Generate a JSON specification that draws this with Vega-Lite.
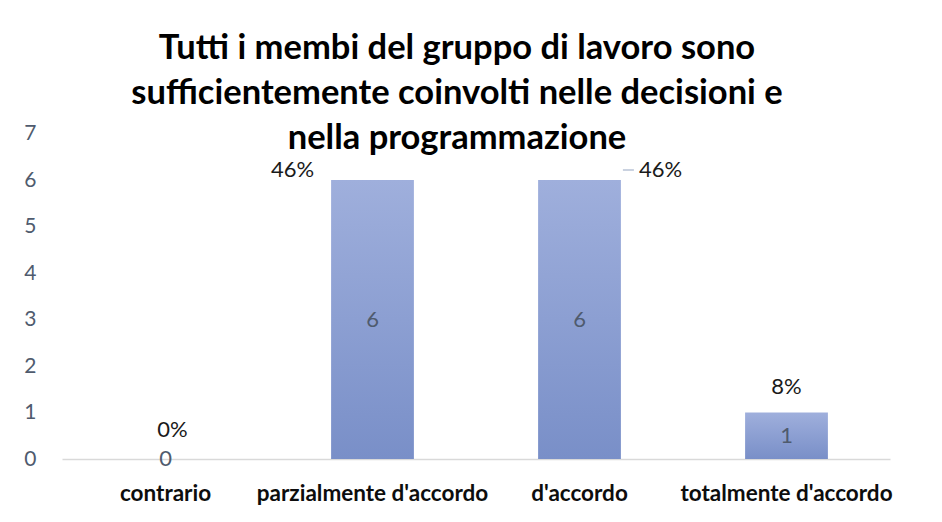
{
  "$schema": "https://vega.github.io/schema/vega-lite/v6.json",
  "width": 828,
  "height": 325.5,
  "autosize": {"type": "none"},
  "padding": {"left": 62, "top": 133.5, "right": 52, "bottom": 63},
  "background": "white",
  "title": {
    "text": ["Tutti i membi del gruppo di lavoro sono", "sufficientemente coinvolti nelle decisioni e", "nella programmazione"],
    "font": "Lato",
    "fontSize": 34.5,
    "fontWeight": "bold",
    "color": "#000000",
    "lineHeight": 45,
    "baseline": "alphabetic",
    "anchor": "middle",
    "frame": "group",
    "offset": 0,
    "dx": -19,
    "dy": 61
  },
  "data": {
    "values": [
      {"cat": "contrario", "count": 0, "pct": "0%"},
      {"cat": "parzialmente d'accordo", "count": 6, "pct": "46%"},
      {"cat": "d'accordo", "count": 6, "pct": "46%"},
      {"cat": "totalmente d'accordo", "count": 1, "pct": "8%"}
    ]
  },
  "encoding": {
    "x": {
      "field": "cat",
      "type": "nominal",
      "sort": null,
      "scale": {"paddingInner": 0.6, "paddingOuter": 0.3},
      "axis": {
        "title": null,
        "labelAngle": 0,
        "labelFont": "Lato",
        "labelFontSize": 22.5,
        "labelFontWeight": "bold",
        "labelColor": "#0d0d0d",
        "labelPadding": 23,
        "labelLimit": 0,
        "labelOverlap": false,
        "ticks": false,
        "domainColor": "#d9d9d9",
        "domainWidth": 1.5
      }
    }
  },
  "layer": [
    {
      "mark": {
        "type": "bar",
        "color": {
          "gradient": "linear",
          "x1": 0, "y1": 0, "x2": 0, "y2": 1,
          "stops": [
            {"offset": 0, "color": "#9fafdc"},
            {"offset": 1, "color": "#798fc8"}
          ]
        }
      },
      "encoding": {
        "y": {
          "field": "count",
          "type": "quantitative",
          "scale": {"domain": [0, 7]},
          "axis": {
            "title": null,
            "values": [0, 1, 2, 3, 4, 5, 6, 7],
            "domain": false,
            "ticks": false,
            "grid": false,
            "labelFont": "Lato",
            "labelFontSize": 21,
            "labelColor": "#4f5b6e",
            "labelPadding": 26
          }
        }
      }
    },
    {
      "mark": {"type": "text", "font": "Lato", "fontSize": 22, "color": "#4f5b6e", "baseline": "middle"},
      "encoding": {
        "y": {"field": "count", "type": "quantitative", "scale": {"domain": [0, 14]}, "axis": null},
        "text": {"field": "count", "type": "quantitative"}
      }
    },
    {
      "transform": [{"filter": "datum.cat == 'contrario'"}],
      "mark": {"type": "text", "font": "Lato", "fontSize": 22, "color": "#1a1a1a", "baseline": "middle", "dx": 7, "dy": -29},
      "encoding": {
        "y": {"field": "count", "type": "quantitative", "scale": {"domain": [0, 7]}, "axis": null},
        "text": {"field": "pct"}
      }
    },
    {
      "transform": [{"filter": "datum.cat == \"parzialmente d'accordo\""}],
      "mark": {"type": "text", "font": "Lato", "fontSize": 22, "color": "#1a1a1a", "baseline": "middle", "dx": -80, "dy": -10},
      "encoding": {
        "y": {"field": "count", "type": "quantitative", "scale": {"domain": [0, 7]}, "axis": null},
        "text": {"field": "pct"}
      }
    },
    {
      "transform": [{"filter": "datum.cat == \"d'accordo\""}],
      "mark": {"type": "text", "font": "Lato", "fontSize": 22, "color": "#1a1a1a", "baseline": "middle", "dx": 81, "dy": -10},
      "encoding": {
        "y": {"field": "count", "type": "quantitative", "scale": {"domain": [0, 7]}, "axis": null},
        "text": {"field": "pct"}
      }
    },
    {
      "transform": [{"filter": "datum.cat == \"d'accordo\""}],
      "mark": {"type": "rule", "color": "#b8c3d6", "strokeWidth": 1.5, "xOffset": 2, "x2Offset": 13, "yOffset": -10},
      "encoding": {
        "x": {"field": "cat", "type": "nominal", "sort": null, "bandPosition": 1},
        "x2": {"field": "cat", "bandPosition": 1},
        "y": {"field": "count", "type": "quantitative", "scale": {"domain": [0, 7]}, "axis": null}
      }
    },
    {
      "transform": [{"filter": "datum.cat == \"totalmente d'accordo\""}],
      "mark": {"type": "text", "font": "Lato", "fontSize": 22, "color": "#1a1a1a", "baseline": "middle", "dy": -26},
      "encoding": {
        "y": {"field": "count", "type": "quantitative", "scale": {"domain": [0, 7]}, "axis": null},
        "text": {"field": "pct"}
      }
    }
  ],
  "resolve": {"scale": {"y": "independent"}},
  "config": {"view": {"stroke": null}}
}
